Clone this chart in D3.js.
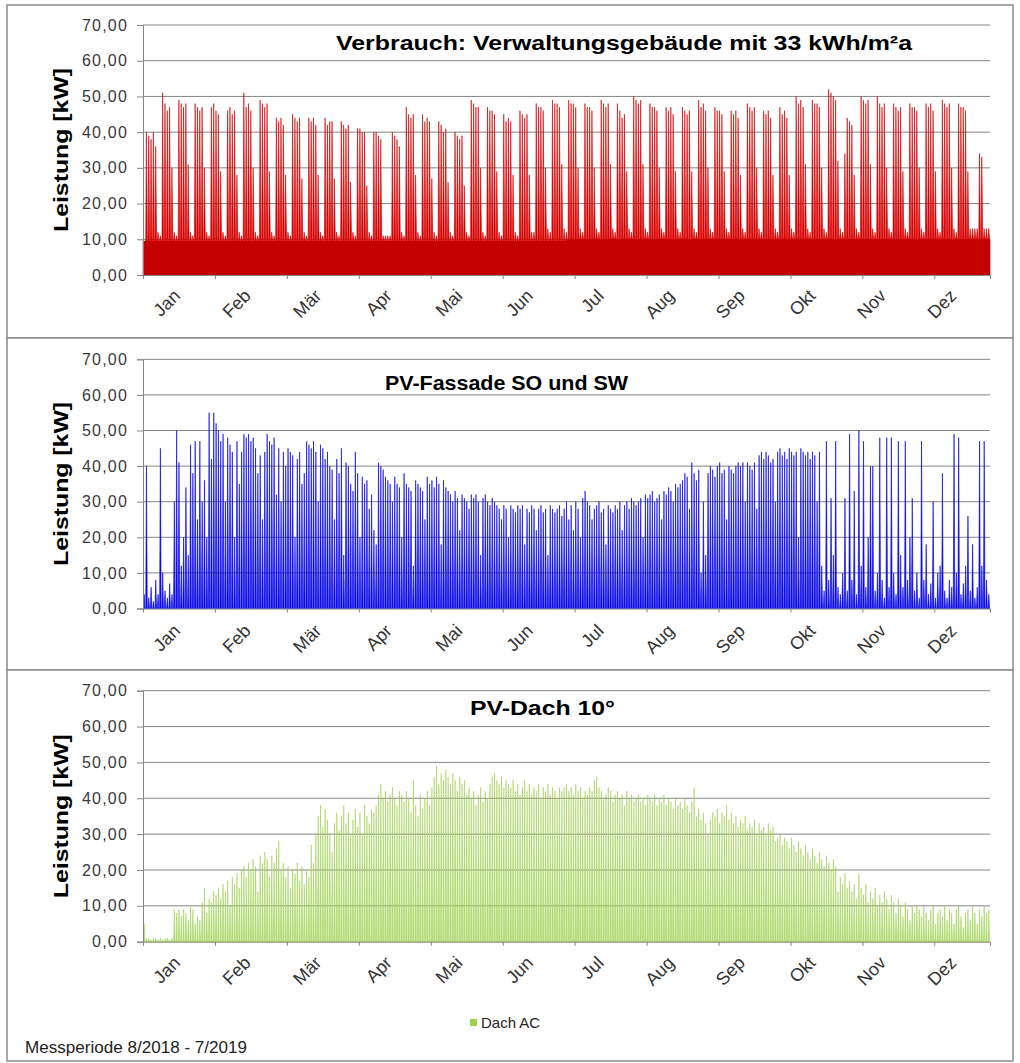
<!DOCTYPE html>
<html>
<head>
<meta charset="utf-8">
<script src="https://cdn.jsdelivr.net/npm/d3@7"></script>
<style>
  body { margin: 0; background: #fff; }
  text { font-family: "Liberation Sans", Arial, sans-serif; }
</style>
</head>
<body>
<svg id="chart" width="1020" height="1063"></svg>
<script>
// hourly axis, one year
const HOURS = 8760;
const monthLabels = ["Jan", "Feb", "Mär", "Apr", "Mai", "Jun", "Jul", "Aug", "Sep", "Okt", "Nov", "Dez"];
const yTicks = [0, 10, 20, 30, 40, 50, 60, 70];

// daily peak of consumption [kW], one row per week
const verbrauchPeak = [
  9, 40, 39, 38, 40, 36, 12,
  11, 51, 48, 46, 47, 30, 12,
  11, 49, 48, 47, 48, 31, 12,
  11, 48, 47, 46, 47, 30, 12,
  11, 47, 48, 46, 45, 29, 12,
  11, 46, 47, 45, 46, 28, 12,
  11, 51, 47, 48, 46, 30, 12,
  11, 49, 48, 47, 48, 29, 12,
  11, 44, 43, 44, 42, 28, 12,
  11, 45, 44, 43, 44, 27, 12,
  11, 44, 43, 44, 42, 28, 12,
  11, 44, 42, 43, 43, 27, 12,
  11, 43, 42, 41, 42, 26, 12,
  11, 41, 41, 40, 40, 25, 12,
  11, 40, 40, 39, 38, 11, 11,
  11, 11, 40, 39, 38, 36, 12,
  11, 47, 45, 44, 45, 28, 12,
  11, 45, 43, 44, 43, 27, 12,
  11, 43, 42, 40, 41, 26, 12,
  11, 40, 39, 38, 39, 25, 12,
  11, 49, 48, 47, 47, 30, 12,
  11, 47, 46, 46, 45, 29, 12,
  11, 45, 43, 44, 43, 28, 12,
  11, 46, 45, 44, 45, 28, 12,
  12, 48, 47, 47, 46, 30, 13,
  12, 49, 48, 48, 47, 31, 13,
  12, 49, 48, 48, 47, 30, 13,
  12, 48, 47, 47, 46, 30, 13,
  12, 49, 48, 47, 48, 31, 13,
  12, 48, 46, 44, 45, 29, 13,
  12, 50, 49, 48, 49, 31, 13,
  12, 48, 47, 47, 46, 30, 13,
  12, 47, 46, 47, 45, 29, 13,
  12, 47, 46, 45, 46, 29, 13,
  12, 49, 47, 48, 46, 30, 13,
  12, 47, 46, 46, 45, 29, 13,
  12, 46, 45, 46, 44, 28, 13,
  12, 48, 47, 46, 47, 30, 13,
  12, 46, 45, 46, 44, 28, 13,
  12, 47, 45, 46, 44, 28, 13,
  12, 50, 48, 49, 47, 31, 13,
  12, 49, 48, 48, 47, 30, 13,
  12, 52, 51, 50, 49, 32, 13,
  12, 34, 44, 43, 42, 28, 13,
  12, 50, 49, 48, 49, 31, 13,
  12, 50, 48, 47, 48, 30, 13,
  12, 48, 47, 46, 47, 29, 13,
  12, 48, 47, 47, 46, 30, 13,
  12, 48, 47, 48, 46, 29, 13,
  12, 49, 48, 47, 48, 30, 13,
  12, 48, 47, 47, 46, 29, 13,
  13, 13, 13, 34, 33, 13, 13,
  13
];
// night base load per month [kW]
const verbrauchBase = [9.5, 9.5, 9.5, 9.5, 9.5, 9.5, 10, 10, 10, 10, 10, 10];

// daily peak PV facade SO + SW [kW], one row per month
const fassadePeak = [
  4, 40, 3, 6, 2, 8, 4, 45, 10, 5, 3, 7, 4, 30, 50, 41, 12, 20, 34, 15, 46, 38, 47, 25, 47, 30, 36, 20, 55, 42, 55,
  52, 50, 47, 49, 30, 48, 46, 44, 20, 47, 35, 44, 49, 48, 49, 47, 48, 45, 38, 43, 25, 44, 49, 47, 46, 48, 32, 45,
  30, 44, 40, 45, 44, 43, 20, 42, 44, 35, 38, 47, 46, 45, 47, 44, 30, 46, 45, 42, 44, 40, 39, 25, 42, 38, 45, 15, 41, 40, 35,
  33, 44, 38, 20, 37, 35, 36, 28, 32, 22, 18, 41, 40, 39, 37, 36, 35, 30, 37, 35, 34, 20, 38, 35, 34, 33, 12, 36, 35, 34,
  33, 25, 37, 35, 36, 34, 37, 35, 18, 36, 34, 33, 32, 30, 33, 31, 22, 32, 31, 30, 28, 32, 31, 32, 30, 15, 31, 32, 30, 29, 31,
  30, 29, 28, 25, 29, 28, 20, 29, 28, 27, 29, 28, 29, 18, 28, 27, 29, 28, 22, 28, 29, 27, 28, 15, 29, 28, 27, 28, 29, 26,
  28, 30, 25, 29, 22, 30, 28, 20, 31, 33, 30, 29, 25, 28, 29, 30, 27, 28, 18, 29, 28, 27, 29, 28, 30, 22, 29, 30, 28, 31, 30,
  29, 30, 31, 20, 32, 31, 32, 33, 30, 31, 32, 25, 33, 32, 34, 33, 30, 35, 34, 35, 36, 38, 37, 28, 41, 38, 36, 39, 10, 30, 15,
  38, 40, 39, 37, 40, 41, 38, 39, 25, 40, 39, 38, 40, 41, 40, 41, 30, 41, 40, 39, 41, 28, 43, 44, 42, 44, 43, 41, 42, 30,
  44, 45, 43, 44, 42, 45, 44, 43, 44, 20, 45, 44, 43, 44, 42, 44, 43, 30, 44, 12, 5, 47, 8, 31, 15, 47, 6, 4, 10, 31, 5,
  49, 8, 33, 4, 50, 12, 47, 6, 20, 40, 40, 5, 10, 48, 8, 3, 48, 6, 48, 10, 4, 47, 15, 6, 47, 8, 20, 31, 5, 10,
  3, 47, 8, 18, 4, 7, 30, 3, 10, 12, 38, 5, 3, 8, 6, 49, 10, 48, 4, 7, 12, 26, 5, 18, 3, 6, 47, 12, 47, 8, 4
];

// daily peak PV roof 10° [kW], one row per month
const dachPeak = [
  5, 1, 1, 0.5, 1, 1, 0.5, 1, 0.5, 1, 1, 0.5, 1, 9, 8, 9, 7, 9, 8, 6, 10, 9, 5, 7, 6, 11, 15, 8, 12, 11, 14,
  13, 15, 12, 16, 14, 17, 10, 18, 16, 19, 15, 20, 21, 18, 22, 20, 23, 21, 14, 24, 22, 25, 23, 18, 24, 22, 26, 28,
  20, 22, 18, 21, 15, 20, 19, 22, 17, 21, 16, 20, 18, 27, 22, 30, 35, 38, 32, 37, 34, 30, 25, 33, 36, 31, 35, 38, 33, 36, 30,
  34, 37, 32, 36, 30, 38, 35, 33, 37, 36, 38, 41, 44, 40, 42, 39, 41, 43, 40, 38, 42, 41, 39, 42, 40, 36, 45, 38, 35, 41,
  37, 40, 42, 38, 43, 46, 49, 44, 47, 45, 48, 46, 44, 47, 45, 42, 46, 44, 45, 41, 43, 40, 42, 38, 41, 43, 39, 42, 40, 44, 46,
  47, 45, 44, 46, 43, 45, 44, 43, 45, 42, 44, 41, 43, 45, 42, 44, 41, 43, 42, 44, 40, 43, 42, 44, 41, 43, 42, 40, 43, 42,
  43, 44, 42, 43, 41, 44, 42, 43, 40, 42, 41, 43, 42, 45, 46, 43, 42, 40, 41, 43, 42, 39, 41, 42, 40, 41, 38, 42, 40, 41, 39,
  40, 41, 39, 40, 38, 41, 40, 39, 41, 38, 40, 39, 41, 38, 40, 39, 37, 40, 38, 39, 37, 40, 38, 36, 39, 43, 35, 37, 34, 36, 33,
  30, 34, 36, 35, 37, 33, 36, 35, 38, 34, 36, 33, 35, 32, 34, 33, 35, 31, 33, 32, 34, 30, 33, 31, 32, 30, 33, 31, 32, 28,
  29, 30, 27, 29, 28, 26, 29, 27, 25, 28, 26, 24, 27, 25, 23, 26, 24, 22, 25, 23, 21, 24, 22, 20, 23, 21, 14, 18, 16, 19, 15,
  17, 14, 16, 12, 19, 15, 13, 16, 11, 14, 12, 15, 10, 13, 11, 14, 12, 9, 13, 11, 8, 12, 10, 7, 11, 9, 6, 10, 8, 10,
  9, 7, 10, 8, 6, 9, 10, 5, 8, 9, 7, 10, 6, 9, 8, 5, 9, 10, 7, 4, 8, 9, 6, 10, 8, 5, 9, 7, 10, 8, 9
];

const svg = d3.select("#chart");

const x = d3.scaleLinear().domain([0, HOURS]).range([143, 990]);
const fmt = d => d3.format(".2f")(d).replace(".", ",");

const panels = [
  { frame: [7, 5, 1006, 333], top: 25, bottom: 275, labelY: 297,
    title: "Verbrauch: Verwaltungsgebäude mit 33 kWh/m²a", tx: 336, ty: 50, tlen: 576,
    peaks: verbrauchPeak, base: verbrauchBase, color: "#e00000", stroke: "#d00000", sw: 0.6, hours: [4, 11, 21] },
  { frame: [7, 338, 1006, 332], top: 359.3, bottom: 608.5, labelY: 632,
    title: "PV-Fassade SO und SW", tx: 385, ty: 390, tlen: 243,
    peaks: fassadePeak, base: null, color: "#1010f8", stroke: "#0000e0", sw: 0.6, hours: [4, 12, 20] },
  { frame: [7, 670, 1006, 391], top: 690.7, bottom: 941.7, labelY: 964,
    title: "PV-Dach 10°", tx: 470, ty: 715, tlen: 145,
    peaks: dachPeak, base: null, color: "#bfe38c", stroke: "#96cd45", sw: 0.5, hours: [5, 12, 19] }
];

panels.forEach(p => {
  const y = d3.scaleLinear().domain([0, 70]).range([p.bottom, p.top]);
  const g = svg.append("g");

  // frame
  g.append("rect")
    .attr("x", p.frame[0]).attr("y", p.frame[1])
    .attr("width", p.frame[2]).attr("height", p.frame[3])
    .attr("fill", "#fff")
    .attr("stroke", "#8c8c8c")
    .attr("stroke-width", 1.5);

  // gridlines
  g.selectAll(".grid")
    .data(yTicks.slice(1))
    .join("line")
    .attr("x1", x(0)).attr("x2", x(HOURS))
    .attr("y1", d => y(d)).attr("y2", d => y(d))
    .attr("stroke", "#858585")
    .attr("stroke-width", 1);

  // daily spikes
  const baseOf = d => p.base ? p.base[Math.min(11, Math.floor(d * 24 / 730))] : 0;
  const [h0, h1, h2] = p.hours;
  const pts = [[0, baseOf(0)]];
  p.peaks.forEach((v, d) => {
    pts.push([24 * d + h0, baseOf(d)], [24 * d + h1, v], [24 * d + h2, baseOf(d)]);
  });
  pts.push([HOURS, baseOf(364)]);

  const area = d3.area()
    .x(d => x(d[0]))
    .y0(y(0))
    .y1(d => y(d[1]));

  g.append("path")
    .attr("d", area(pts))
    .attr("fill", p.color)
    .attr("stroke", p.stroke)
    .attr("stroke-width", p.sw)
    .attr("stroke-linejoin", "bevel");

  // base load band
  if (p.base) {
    const basePts = p.base.map((v, m) => [730 * m, v]).concat([[HOURS, p.base[11]]]);
    g.append("path")
      .attr("d", d3.area().curve(d3.curveStepAfter).x(d => x(d[0])).y0(y(0)).y1(d => y(d[1]))(basePts))
      .attr("fill", "#c40000");
  }

  // y axis
  const yAxis = g.append("g")
    .attr("transform", `translate(${x(0)},0)`)
    .call(d3.axisLeft(y).tickValues(yTicks).tickFormat(fmt).tickSize(6).tickPadding(9));
  yAxis.select(".domain").attr("stroke", "#858585");
  yAxis.selectAll(".tick line").attr("stroke", "#858585");
  yAxis.selectAll(".tick text")
    .attr("font-size", 16)
    .attr("letter-spacing", "1.2px")
    .attr("fill", "#3a3a3a")
    .attr("font-family", "Liberation Sans, Arial, sans-serif");

  // x axis: ticks every 31 days, labels centred on twelfths
  const xAxis = g.append("g")
    .attr("transform", `translate(0,${y(0)})`)
    .call(d3.axisBottom(x).tickValues(d3.range(1, 12).map(k => 744 * k)).tickFormat("").tickSize(4));
  xAxis.select(".domain").attr("stroke", "#858585");
  xAxis.selectAll(".tick line").attr("stroke", "#858585");

  g.selectAll(".month")
    .data(monthLabels)
    .join("text")
    .attr("transform", (d, i) => `translate(${x(730 * i + 365) + 3},${p.labelY}) rotate(-45)`)
    .attr("text-anchor", "end")
    .attr("font-size", 18)
    .attr("fill", "#333")
    .text(d => d);

  // axis title
  g.append("text")
    .attr("transform", `translate(68,${(p.top + p.bottom) / 2}) rotate(-90)`)
    .attr("text-anchor", "middle")
    .attr("font-size", 21)
    .attr("font-weight", "bold")
    .attr("textLength", 164)
    .attr("lengthAdjust", "spacingAndGlyphs")
    .text("Leistung [kW]");

  // chart title
  g.append("text")
    .attr("x", p.tx).attr("y", p.ty)
    .attr("font-size", 20)
    .attr("font-weight", "bold")
    .attr("textLength", p.tlen)
    .attr("lengthAdjust", "spacingAndGlyphs")
    .text(p.title);
});

// legend
const legend = svg.append("g");
legend.append("rect")
  .attr("x", 470).attr("y", 1019)
  .attr("width", 7).attr("height", 7)
  .attr("fill", "#9bd14f");
legend.append("text")
  .attr("x", 481).attr("y", 1028)
  .attr("font-size", 15)
  .attr("fill", "#222")
  .text("Dach AC");

svg.append("text")
  .attr("x", 25).attr("y", 1053)
  .attr("font-size", 16)
  .attr("textLength", 222)
  .attr("lengthAdjust", "spacingAndGlyphs")
  .attr("fill", "#222")
  .text("Messperiode 8/2018 - 7/2019");
</script>
</body>
</html>
